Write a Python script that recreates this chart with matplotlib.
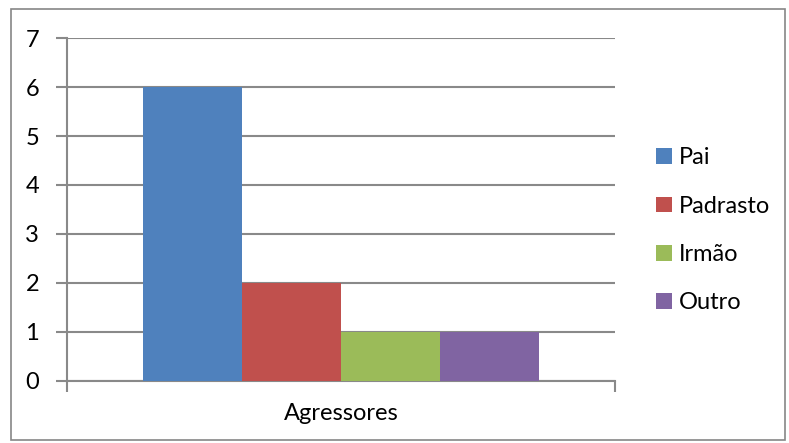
import matplotlib.pyplot as plt
from matplotlib.patches import Rectangle

# data
categoria = 'Agressores'
series = ['Pai', 'Padrasto', 'Irmão', 'Outro']
valores = [6, 2, 1, 1]
cores = ['#4F81BD', '#C0504D', '#9BBB59', '#8064A2']
y_ticks = [0, 1, 2, 3, 4, 5, 6, 7]

plt.rcParams['font.family'] = ['Lato', 'DejaVu Sans']
grid_cor = '#898989'
fs = 17

fig = plt.figure(figsize=(7.89, 4.43), dpi=100)
ax = fig.add_axes([0.0849, 0.140, 0.6946, 0.7742])

# one category, four bars side by side
x = list(range(len(series)))
barras = ax.bar(x, valores, width=1.0, color=cores, label=series, zorder=3)

ax.set_ylim(0, 7)
ax.set_xlim(-1.264, 4.264)
ax.set_yticks(y_ticks)
ax.set_yticklabels([str(v) for v in y_ticks], fontsize=fs)
ax.yaxis.grid(True, color=grid_cor, linewidth=1.5, zorder=0)
ax.set_xticks([-1.264, 4.264])
ax.set_xticklabels(['', ''])
ax.tick_params(axis='y', length=8, width=1.5, color=grid_cor, pad=12)
ax.tick_params(axis='x', length=8, width=1.5, color=grid_cor)
for lado in ['top', 'right']:
    ax.spines[lado].set_visible(False)
for lado in ['left', 'bottom']:
    ax.spines[lado].set_color(grid_cor)
    ax.spines[lado].set_linewidth(1.5)

ax.text(0.5, -0.065, categoria, transform=ax.transAxes, ha='center', va='top', fontsize=fs)

fig.legend(barras, series, loc='center left', bbox_to_anchor=(0.805, 0.48),
           frameon=False, fontsize=fs, handlelength=0.64, handleheight=0.64,
           handletextpad=0.3, labelspacing=1.16)

# outer chart border
fig.patches.append(Rectangle((11 / 789, 3 / 443), 774 / 789, 431 / 443,
                             transform=fig.transFigure, fill=False,
                             edgecolor='#868686', linewidth=1.2))

fig.savefig('out.png', dpi=100)
